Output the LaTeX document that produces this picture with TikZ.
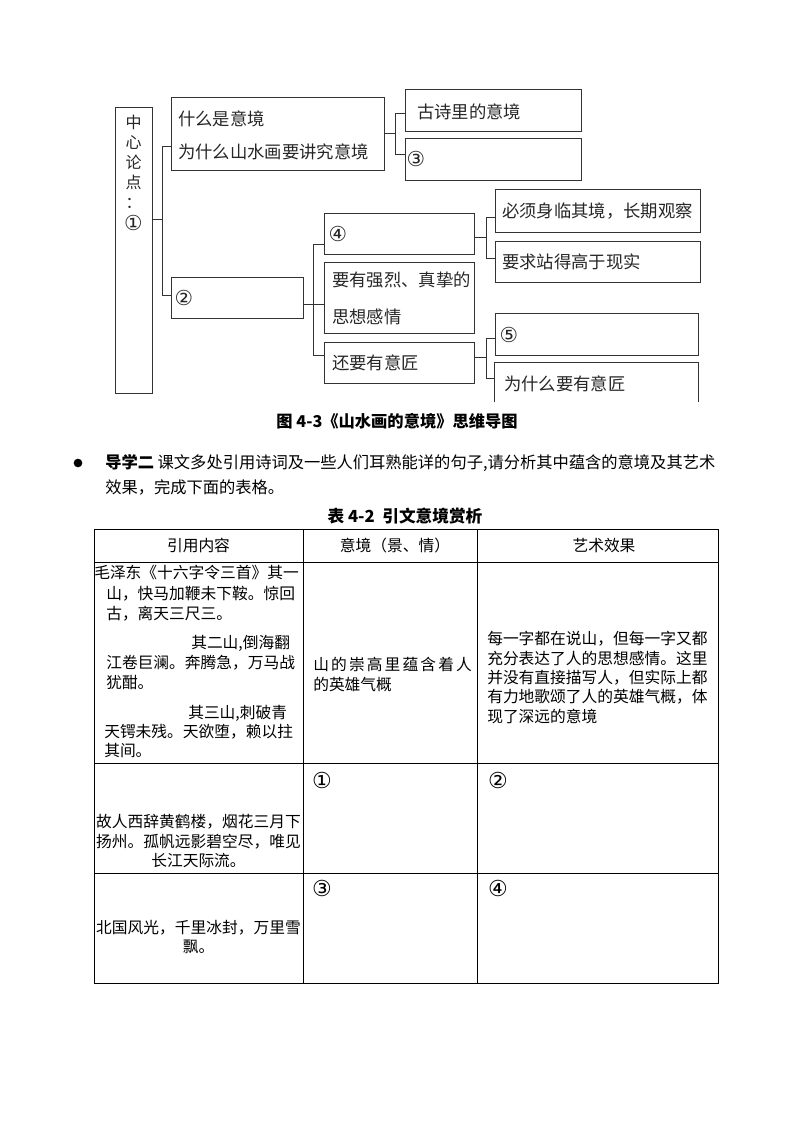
\documentclass[tikz,border=0pt]{standalone}
\usepackage{fontspec}
\setmainfont{Noto Sans CJK SC}
\newfontfamily\handfont{Noto Sans CJK SC}
\newfontfamily\circfont{DejaVu Sans}

\tikzset{
	mapbox/.style 2 args={draw=black!80, line width=0.7pt, inner sep=0pt, minimum width=#1*0.75pt, minimum height=#2*0.75pt},
	hand/.style={inner sep=0pt, anchor=west, text=black!85, font=\handfont\fontsize{13}{15}\selectfont},
	handnum/.style={inner sep=0pt, text=black!85, font=\circfont\fontsize{15.5}{17}\selectfont},
	link/.style={draw=black!80, line width=0.7pt},
	cell/.style={inner sep=0pt, font=\fontsize{11.8}{14.6}\selectfont},
	cellnum/.style={inner sep=0pt, font=\circfont\fontsize{16.5}{18}\selectfont},
	rule/.style={line width=0.75pt},
}

\begin{document}
\begin{tikzpicture}[x=0.75pt, y=-0.75pt]
\useasboundingbox (0,0) rectangle (794,1123);

% 思维导图
\node[mapbox={37}{286}] (core) at (133.5,250) {};
\node[hand, anchor=center, align=center, font=\handfont\fontsize{12}{15}\selectfont] (coretext) at (133.5,162) {中\\心\\论\\点\\：};
\node[handnum] (corenum) at (133.5,223) {①};

\node[mapbox={213}{73}] (what) at (277.5,133.5) {};
\node[hand] (whattext) at (178,119) {什么是意境};
\node[hand] (whytext) at (178,152) {为什么山水画要讲究意境};

\node[mapbox={176}{42}] (ancient) at (493,110) {};
\node[hand] (ancienttext) at (417,112) {古诗里的意境};
\node[mapbox={176}{42}] (q3) at (493,159) {};
\node[handnum] (q3text) at (416,159) {③};

\node[mapbox={132}{41}] (q2) at (237,297.5) {};
\node[handnum] (q2text) at (184,298) {②};

\node[mapbox={150}{41}] (q4) at (399,233.5) {};
\node[handnum] (q4text) at (338,234) {④};
\node[mapbox={150}{71}] (feel) at (399,297.5) {};
\node[hand] (feeltext) at (332,280) {要有强烈、真挚的};
\node[hand] (feeltext2) at (332,317) {思想感情};
\node[mapbox={150}{41}] (craft) at (399,362.5) {};
\node[hand] (crafttext) at (332,363) {还要有意匠};

\node[mapbox={205}{43}] (observe) at (597.5,210.5) {};
\node[hand] (observetext) at (502,211) {必须身临其境，长期观察};
\node[mapbox={205}{41}] (above) at (597.5,261.5) {};
\node[hand] (abovetext) at (502,262) {要求站得高于现实};

\node[mapbox={203}{42}] (q5) at (596.5,334) {};
\node[handnum] (q5text) at (509,335) {⑤};
\node[mapbox={203}{39}, draw=none] (why) at (596.5,382.5) {};
\draw[link] (why.south west) -- (why.north west) -- (why.north east) -- (why.south east);
\node[hand] (whycrafttext) at (504,384) {为什么要有意匠};

% 连线
\coordinate (ja) at (162,219);
\coordinate (ja1) at (162,146);
\coordinate (ja2) at (162,295);
\draw[link] (core.east |- ja) -- (ja);
\draw[link] (what.west |- ja1) -- (ja1) -- (ja2) -- (q2.west |- ja2);

\coordinate (jb) at (395,133);
\coordinate (jb1) at (395,113);
\coordinate (jb2) at (395,154);
\draw[link] (what.east |- jb) -- (jb);
\draw[link] (ancient.west |- jb1) -- (jb1) -- (jb2) -- (q3.west |- jb2);

\coordinate (jc) at (313,304);
\coordinate (jc1) at (313,244);
\coordinate (jc2) at (313,355);
\draw[link] (q2.east |- jc) -- (feel.west |- jc);
\draw[link] (q4.west |- jc1) -- (jc1) -- (jc2) -- (craft.west |- jc2);

\coordinate (jd) at (486,237);
\coordinate (jd1) at (486,217);
\coordinate (jd2) at (486,258);
\draw[link] (q4.east |- jd) -- (jd);
\draw[link] (observe.west |- jd1) -- (jd1) -- (jd2) -- (above.west |- jd2);

\coordinate (je) at (486,357);
\coordinate (je1) at (486,338);
\coordinate (je2) at (486,378);
\draw[link] (craft.east |- je) -- (je);
\draw[link] (q5.west |- je1) -- (je1) -- (je2) -- (why.west |- je2);

% 图题与导学
\node[inner sep=0pt, font=\fontsize{12.2}{14}\selectfont\bfseries] (fig) at (397,421) {图 4-3《山水画的意境》思维导图};

\node[circle, fill, inner sep=0pt, minimum size=6.5pt] (dot) at (78,463) {};
\node[cell, anchor=west, font=\fontsize{12.2}{14.6}\selectfont] (task1) at (105,463) {\textbf{导学二} 课文多处引用诗词及一些人们耳熟能详的句子,请分析其中蕴含的意境及其艺术};
\node[cell, anchor=west, font=\fontsize{12.2}{14.6}\selectfont] (task2) at (105,487) {效果，完成下面的表格。};

\node[inner sep=0pt, font=\fontsize{12.5}{14}\selectfont\bfseries] (tabtitle) at (405,516) {表 4-2\ \ 引文意境赏析};

% 表格
\draw[rule] (94,529) rectangle (718,983);
\foreach \y in {562,763,873}
	\draw[rule] (94,\y) -- (718,\y);
\foreach \x in {303,477}
	\draw[rule] (\x,529) -- (\x,983);

\node[cell] (head1) at (198.5,546) {引用内容};
\node[cell] (head2) at (395,546) {意境（景、情）};
\node[cell] (head3) at (604,546) {艺术效果};

\foreach \x/\y/\t [count=\i] in {94/573/{毛泽东《十六字令三首》其一}, 106/594/{山，快马加鞭未下鞍。惊回},
		106/614/{古，离天三尺三。}, 191/643/{其二山,倒海翻}, 106/663/{江卷巨澜。奔腾急，万马战},
		106/683/{犹酣。}, 188/713/{其三山,刺破青}, 104/732/{天锷未残。天欲堕，赖以拄}, 104/751/{其间。}}
	\node[cell, anchor=west] (poem\i) at (\x,\y) {\t};

\node[cell, anchor=west, align=left] (mood) at (313,674.5) {山\hspace{1.6pt}的\hspace{1.6pt}崇\hspace{1.6pt}高\hspace{1.6pt}里\hspace{1.6pt}蕴\hspace{1.6pt}含\hspace{1.6pt}着\hspace{1.6pt}人\\的英雄气概};
\node[cell, anchor=west, align=left] (effect) at (487,677.5) {每一字都在说山，但每一字又都\\充分表达了人的思想感情。这里\\并没有直接描写人，但实际上都\\有力地歌颂了人的英雄气概，体\\现了深远的意境};

\node[cell, align=center] (yellow) at (198.5,841) {故人西辞黄鹤楼，烟花三月下\\扬州。孤帆远影碧空尽，唯见\\长江天际流。};
\node[cell, align=center] (north) at (198.5,937) {北国风光，千里冰封，万里雪\\飘。};

\node[cellnum] (blank1) at (322,780) {①};
\node[cellnum] (blank2) at (498,780) {②};
\node[cellnum] (blank3) at (322,888) {③};
\node[cellnum] (blank4) at (498,888) {④};
\end{tikzpicture}
\end{document}
